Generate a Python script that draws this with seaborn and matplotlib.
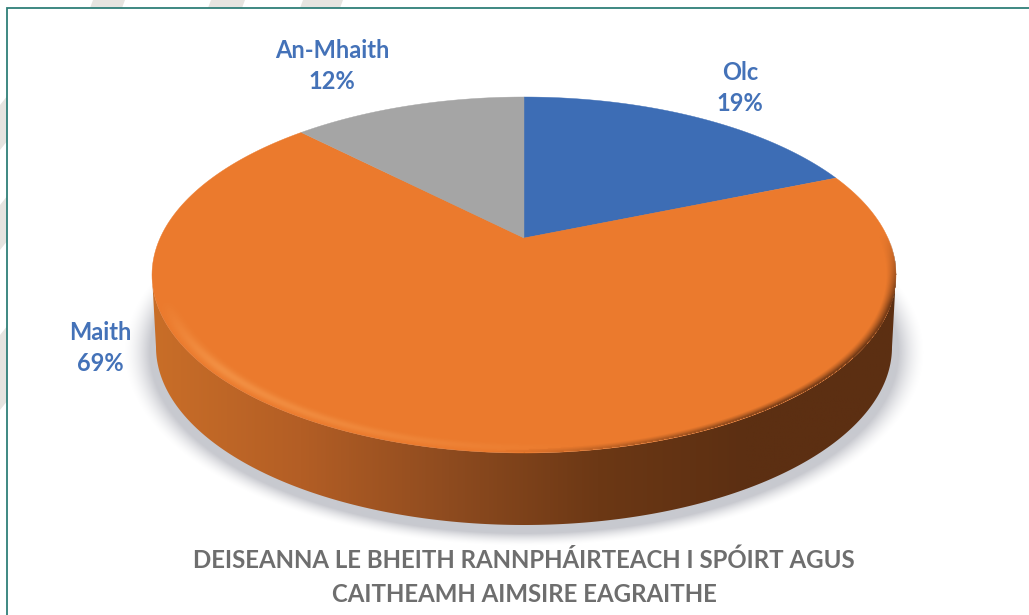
import numpy as np
import matplotlib
matplotlib.use("Agg")
import matplotlib.pyplot as plt
from matplotlib.patches import Polygon, Rectangle
from matplotlib.colors import LinearSegmentedColormap
import seaborn as sns

# data
labels = ["Olc", "Maith", "An-Mhaith"]
shares = [18.8, 68.8, 12.4]
slice_colors = ["#3D6DB5", "#EB7A2D", "#A5A5A5"]
title_lines = ["DEISEANNA LE BHEITH RANNPHÁIRTEACH I SPÓIRT AGUS",
               "CAITHEAMH AIMSIRE EAGRAITHE"]

sns.set_theme(style="white")
plt.rcParams["font.family"] = ["Lato", "DejaVu Sans"]
palette = sns.color_palette(slice_colors)

fig = plt.figure(figsize=(10.29, 6.15), dpi=100)
ax = fig.add_axes([0, 0, 1, 1])
ax.set_xlim(0, 1029)
ax.set_ylim(615, 0)
ax.axis("off")

# watermark stripes behind the frame
for x0, x1 in [(90, 122), (208, 242), (300, 340)]:
    ax.add_patch(Polygon([(x0, 8), (x1, 8), (x1 + 3, 0), (x0 + 3, 0)], color="#E6E4E0", lw=0))
for y0, y1 in [(105, 150), (205, 250), (335, 410)]:
    ax.add_patch(Polygon([(0, y0), (8, y0 - 10), (8, y1 - 10), (0, y1)], color="#E6E4E0", lw=0))
ax.add_patch(Rectangle((7, 8), 1040, 640, fc="white", ec="#2F7F78", lw=1.3, zorder=1))

# pie geometry, in pixels
cx, cy = 524, 275
rx, ry = 372, 178
apex_y = 238
depth = 72
k = (cy - apex_y) / ry


def project(u, v):
    # perspective view of the unit disc, v points away from the viewer
    w = 1 + k * v
    x = cx + rx * np.sqrt(1 - k ** 2) * u / w
    y = cy - (ry * v + (cy - apex_y)) / w
    return x, y


yy, xx = np.mgrid[0:615, 0:1029]
e = np.sqrt(((xx - cx) / rx) ** 2 + ((yy - cy) / ry) ** 2)

# soft shadow under the pie
e_sh = np.sqrt(((xx - cx) / (rx + 2)) ** 2 + ((yy - cy - depth - 6) / (ry + 3)) ** 2)
sh = np.clip((1.07 - e_sh) / 0.07, 0, 1) ** 1.6 * 0.6
sh_img = np.zeros((615, 1029, 4))
sh_img[..., :3] = np.array([0.64, 0.65, 0.69])
sh_img[..., 3] = sh
ax.imshow(sh_img, extent=(-0.5, 1028.5, 614.5, -0.5), aspect="auto", zorder=2, interpolation="bilinear")
ax.set_xlim(0, 1029)
ax.set_ylim(615, 0)

# side wall of the pie, gradient clipped to the outline
t = np.linspace(0, np.pi, 200)
top_edge = np.column_stack([cx + rx * np.cos(t), cy + ry * np.sin(t)])
bot_edge = np.column_stack([cx + (rx - 4) * np.cos(t), cy + depth + ry * np.sin(t)])
wall = Polygon(np.vstack([top_edge, bot_edge[::-1]]), closed=True, transform=ax.transData, fc="none", lw=0)
ax.add_patch(wall)
wall_cmap = LinearSegmentedColormap.from_list(
    "wall", ["#C96E28", "#B35E25", "#8E4B1F", "#6C3815", "#5C2F12", "#5C2F12"])
grad = ax.imshow(np.linspace(0, 1, 256).reshape(1, -1), cmap=wall_cmap, aspect="auto",
                 extent=(152, 895, 525, 275), zorder=3)
grad.set_clip_path(wall)
ax.set_xlim(0, 1029)
ax.set_ylim(615, 0)

# top face, one wedge per share, clockwise from the top
edges = np.cumsum([0] + shares) / sum(shares) * 2 * np.pi
for i, share in enumerate(shares):
    a = np.linspace(edges[i], edges[i + 1], 200)
    px, py = project(np.sin(a), np.cos(a))
    ax.add_patch(Polygon(np.vstack([[cx, apex_y], np.column_stack([px, py])]), closed=True,
                         fc=palette[i], ec=palette[i], lw=0.3, zorder=4))

# bevel along the lower rim: light on the left, dark on the right
band = np.clip((e - 0.93) / 0.07, 0, 1)
side_pos = np.clip((xx - 152) / 743, 0, 1)
inside = e <= 1.0
light = np.exp(-((band - 0.6) / 0.28) ** 2) * np.clip(1 - side_pos * 1.7, 0, 1) * 0.42
light = light * np.clip((yy - 300) / 70, 0, 1)
dark = np.clip((band - 0.6) / 0.4, 0, 1) ** 1.3 * np.clip((side_pos - 0.45) * 2.5, 0, 1) * 0.95
dark = dark * np.clip((yy - 235) / 70, 0, 1)
rim = np.zeros((615, 1029, 4))
rim[..., 0] = np.where(dark > light, 0.36, 1.0)
rim[..., 1] = np.where(dark > light, 0.18, 0.72)
rim[..., 2] = np.where(dark > light, 0.07, 0.42)
rim[..., 3] = np.maximum(light, dark) * inside
ax.imshow(rim, extent=(-0.5, 1028.5, 614.5, -0.5), aspect="auto", zorder=5, interpolation="bilinear")
ax.set_xlim(0, 1029)
ax.set_ylim(615, 0)

# slice labels
label_pos = [(740, 88), (100, 348), (332, 66)]
for name, share, (lx, ly) in zip(labels, shares, label_pos):
    ax.text(lx, ly, f"{name}\n{share:.0f}%", ha="center", va="center", color="#4472B8",
            fontsize=17, fontweight="bold", linespacing=1.4, zorder=6)

# caption under the pie
ax.text(524, 560, title_lines[0], ha="center", va="center", color="#6E6E6E",
        fontsize=17.25, fontweight="bold", zorder=6)
ax.text(524, 594, title_lines[1], ha="center", va="center", color="#6E6E6E",
        fontsize=17.25, fontweight="bold", zorder=6)

fig.savefig("out.png", dpi=100)
